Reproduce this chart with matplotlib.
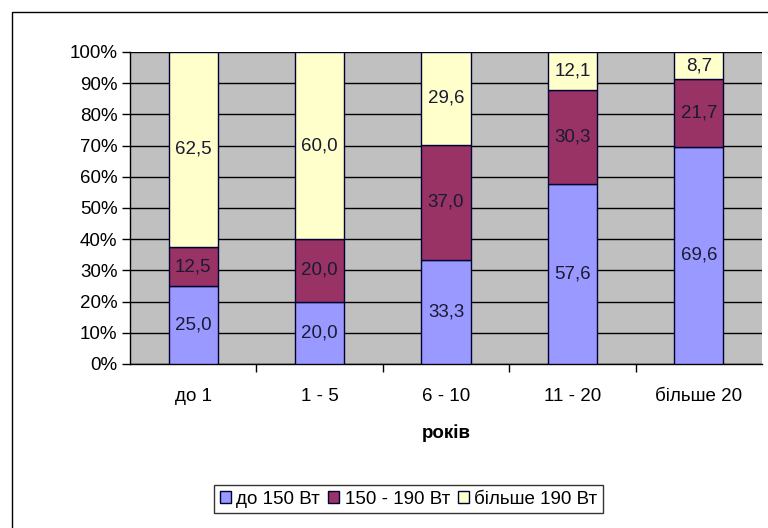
import numpy as np
import matplotlib; matplotlib.use("Agg")
import matplotlib.pyplot as plt
from matplotlib.patches import Rectangle
from matplotlib.ticker import PercentFormatter

plt.rcParams["font.family"] = ["Liberation Sans", "DejaVu Sans"]
FS = 13.5

# Дані: частка потужностей за віком (%)
categories = ["до 1", "1 - 5", "6 - 10", "11 - 20", "більше 20"]
low = [25.0, 20.0, 33.3, 57.6, 69.6]
mid = [12.5, 20.0, 37.0, 30.3, 21.7]
high = [62.5, 60.0, 29.6, 12.1, 8.7]
series_names = ["до 150 Вт", "150 - 190 Вт", "більше 190 Вт"]
colors = ["#9999FF", "#993366", "#FFFFCC"]

fig = plt.figure(figsize=(7.68, 5.28), dpi=100)
# рамка області діаграми (права та нижня сторони за межами кадру)
fig.patches.append(Rectangle((12/768, -0.02), 1, 1.02 - 12/528,
                             transform=fig.transFigure,
                             fill=False, ec="black", lw=1.0))
ax = fig.add_axes([130/768, 1 - 364/528, 632/768, (364 - 52)/528])
ax.set_facecolor("#C0C0C0")

x = np.arange(len(categories))
w = 0.39
bottom = np.zeros(len(categories))
for vals, col, name in zip([low, mid, high], colors, series_names):
    vals = np.array(vals)
    ax.bar(x, vals, w, bottom=bottom, color=col, edgecolor="#000033", lw=1.0,
           label=name, zorder=3)
    for xi, b, v in zip(x, bottom, vals):
        ax.text(xi, b + v / 2, f"{v:.1f}".replace(".", ","), ha="center",
                va="center", fontsize=FS, color="#1a1a33", zorder=4)
    bottom += vals

ax.set_xlim(-0.5, len(categories) - 0.5)
ax.set_ylim(0, 100)
ax.set_yticks(np.arange(0, 101, 10))
ax.yaxis.set_major_formatter(PercentFormatter(decimals=0))
ax.grid(axis="y", color="black", lw=1.0, zorder=1)
ax.set_xticks(x)
ax.set_xticklabels(categories, fontsize=FS)
ax.set_xticks(np.arange(0.5, len(categories) - 0.5, 1), minor=True)
ax.tick_params(axis="x", which="major", length=0, pad=17)
ax.tick_params(axis="x", which="minor", length=6, width=1, direction="out")
ax.tick_params(axis="y", length=6, width=1, labelsize=FS, pad=3)
for side in ["top", "right"]:
    ax.spines[side].set_visible(False)
for side in ["left", "bottom"]:
    ax.spines[side].set_linewidth(1.0)
ax.set_xlabel("років", fontsize=FS, fontweight="bold", labelpad=14)

leg = fig.legend(loc="upper left", bbox_to_anchor=(214/768, 1 - 485/528), ncol=3,
                 fontsize=FS, frameon=True, fancybox=False, edgecolor="black",
                 handlelength=0.6, handleheight=0.6, handletextpad=0.3,
                 columnspacing=0.4, borderpad=0.3, borderaxespad=0)
leg.get_frame().set_linewidth(1.0)

fig.savefig("out.png", dpi=100)
